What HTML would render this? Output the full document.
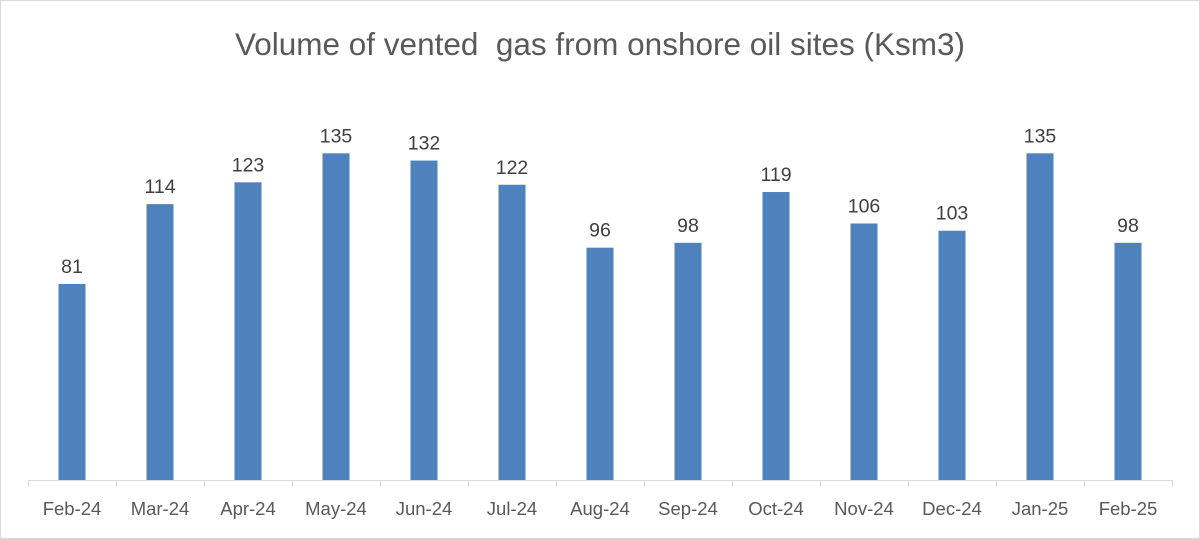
<!DOCTYPE html>
<html><head><style>
html,body{margin:0;padding:0;background:#fff}
svg{display:block}
text{font-family:"Liberation Sans",sans-serif}
</style></head><body>
<svg width="1200" height="539" viewBox="0 0 1200 539" xmlns="http://www.w3.org/2000/svg">
<rect x="0.5" y="0.5" width="1199" height="538" fill="#fff" stroke="#d9d9d9"/>
<text x="600" y="55" text-anchor="middle" font-size="31.5" fill="#595959">Volume of vented&#160; gas from onshore oil sites (Ksm3)</text>
<g id="bars"></g>
<line x1="28" y1="480.5" x2="1172" y2="480.5" stroke="#d9d9d9"/>
<g id="ticks"></g>
</svg>
<script>
const d=[["Feb-24",81],["Mar-24",114],["Apr-24",123],["May-24",135],["Jun-24",132],["Jul-24",122],["Aug-24",96],["Sep-24",98],["Oct-24",119],["Nov-24",106],["Dec-24",103],["Jan-25",135],["Feb-25",98]];
const ns="http://www.w3.org/2000/svg";
const b=document.getElementById("bars"),t=document.getElementById("ticks");
function el(tag,a,txt){const e=document.createElementNS(ns,tag);for(const k in a)e.setAttribute(k,a[k]);if(txt!=null)e.textContent=txt;return e;}
d.forEach((r,i)=>{const cx=28+88*i+44;const h=r[1]*2.42;const top=480-h;
b.appendChild(el("rect",{x:cx-13.5,y:top,width:27,height:h,fill:"#4f81bd"}));
b.appendChild(el("text",{x:cx,y:top-11,"text-anchor":"middle","font-size":"19.5",fill:"#404040"},r[1]));
t.appendChild(el("text",{x:cx,y:515,"text-anchor":"middle","font-size":"18.5",fill:"#595959"},r[0]));
});
for(let i=0;i<=13;i++){const x=28+88*i+0.5;t.appendChild(el("line",{x1:x,y1:480,x2:x,y2:487,stroke:"#d9d9d9"}));}
</script>
</body></html>
